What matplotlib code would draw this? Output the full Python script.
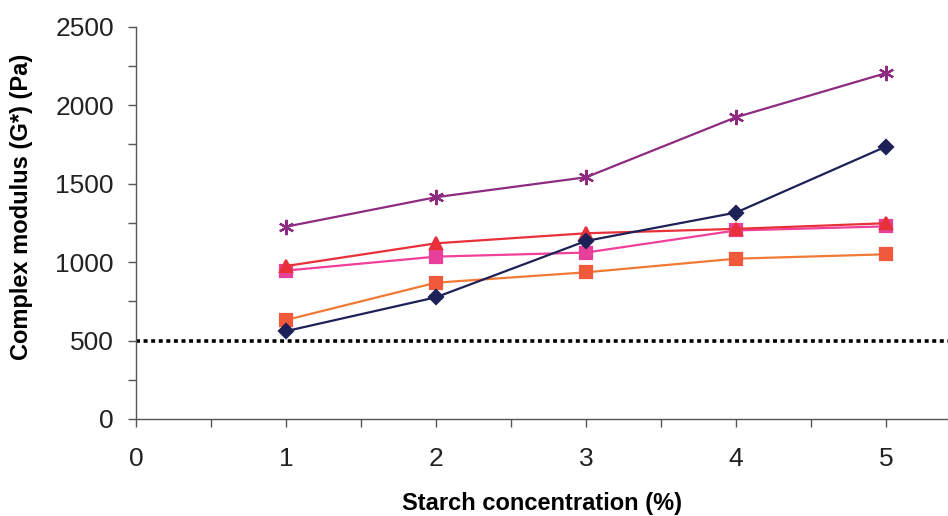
import matplotlib
matplotlib.use("Agg")
import matplotlib.pyplot as plt
from matplotlib.ticker import MultipleLocator

conc = [1, 2, 3, 4, 5]
navy_vals = [560, 776, 1135, 1316, 1737]
orange_vals = [631, 869, 935, 1022, 1050]
red_vals = [975, 1120, 1184, 1212, 1248]
pink_vals = [946, 1035, 1061, 1202, 1228]
purple_vals = [1226, 1414, 1541, 1924, 2205]
threshold = 495

x_ticks = [0, 1, 2, 3, 4, 5]
y_ticks = [0, 500, 1000, 1500, 2000, 2500]

plt.rcParams['font.family'] = ['Liberation Sans', 'DejaVu Sans']

fig = plt.figure(figsize=(9.48, 5.16), dpi=100)
ax = fig.add_axes([0.1435, 0.188, 0.8565, 0.760])

# dotted reference line
ax.axhline(threshold, color='black', linestyle=(0, (1.1, 1.0)), linewidth=2.6, zorder=1)

series = [
    (orange_vals, '#F07A35', 's', '#F05A3A', 8.5),
    (pink_vals, '#F0409A', 's', '#E8409A', 8.5),
    (red_vals, '#E8303A', '^', '#E8303A', 8.5),
    (navy_vals, '#1E2158', 'D', '#1E2158', 7),
    (purple_vals, '#8E2A80', (6, 2, 0), '#8E2A80', 11),
]
for vals, lc, mk, mc, ms in series:
    ax.plot(conc, vals, color=lc, linewidth=1.6, marker=mk, markersize=ms,
            markerfacecolor=mc, markeredgecolor=mc, markeredgewidth=1.6, zorder=3)

ax.set_xlim(0, 5.413)
ax.set_ylim(0, 2500)
ax.set_xticks(x_ticks)
ax.set_yticks(y_ticks)
ax.xaxis.set_minor_locator(MultipleLocator(0.5))
ax.yaxis.set_minor_locator(MultipleLocator(250))

for side in ['top', 'right']:
    ax.spines[side].set_visible(False)
for side in ['left', 'bottom']:
    ax.spines[side].set_color('#555555')
    ax.spines[side].set_linewidth(1.0)

ax.tick_params(axis='both', which='both', direction='out', color='#555555', width=1.0)
ax.tick_params(axis='both', which='major', length=6, labelsize=19, labelcolor='#222222')
ax.tick_params(axis='both', which='minor', length=6)
ax.tick_params(axis='x', which='major', pad=14)
ax.tick_params(axis='y', which='major', pad=10)

ax.set_ylabel('Complex modulus (G*) (Pa)', fontsize=17, fontweight='bold')
ax.yaxis.set_label_coords(-0.127, 0.54)
ax.set_xlabel('Starch concentration (%)', fontsize=17, fontweight='bold', labelpad=15)

fig.savefig('out.png', dpi=100)
